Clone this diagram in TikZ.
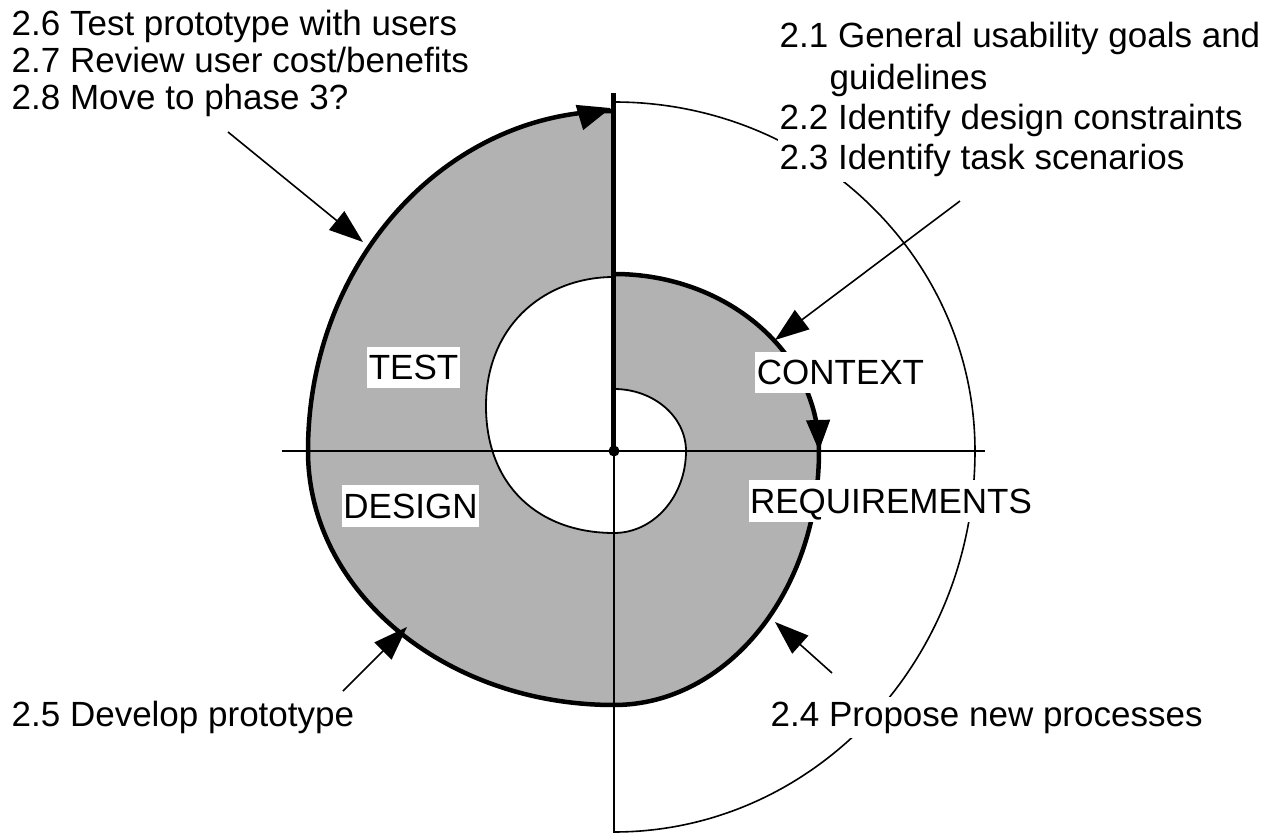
\documentclass[tikz,border=0pt]{standalone}
\usepackage{fontspec}
\setmainfont{Liberation Sans}
\usetikzlibrary{arrows.meta}
\begin{document}
\begin{tikzpicture}[x=1pt,y=1pt,
  thinline/.style={line width=1.6pt},
  thickline/.style={line width=4.5pt},
  bigtip/.style={-{Triangle[length=34pt,width=24pt]}},
  lbl/.style={fill=white, inner xsep=1.5pt, inner ysep=8.2pt, text height=25pt, text depth=0pt, font=\fontsize{35}{40}\selectfont},
  item/.style={anchor=base west, inner xsep=1.5pt, inner ysep=5pt, font=\fontsize{35}{40}\selectfont},
]
\useasboundingbox (-614,-384) rectangle (661,451);

% gray spiral band
\fill[black!30] (0,62) arc[start angle=90,end angle=0,x radius=72,y radius=62]
  arc[start angle=0,end angle=-90,x radius=72,y radius=82] -- (0,-254)
  arc[start angle=-90,end angle=0,x radius=205,y radius=254]
  arc[start angle=0,end angle=90,x radius=205,y radius=177] -- cycle;
\fill[black!30] (0,-82) .. controls (-75,-82) and (-128,-35) .. (-128,45)
  .. controls (-128,125) and (-70,174) .. (0,174) -- (0,340)
  arc[start angle=90,end angle=180,x radius=306,y radius=340]
  arc[start angle=180,end angle=270,x radius=306,y radius=254] -- cycle;

% thin outer turn
\draw[thinline] (0,349) arc[start angle=90,end angle=0,x radius=361,y radius=349]
  arc[start angle=0,end angle=-90,x radius=361,y radius=381];

% axes
\draw[thinline] (-332,0) -- (371,0);
\draw[thinline] (0,0) -- (0,-382);

% inner spiral
\draw[line width=1.8pt] (0,62) arc[start angle=90,end angle=0,x radius=72,y radius=62]
  arc[start angle=0,end angle=-90,x radius=72,y radius=82]
  .. controls (-75,-82) and (-128,-35) .. (-128,45)
  .. controls (-128,125) and (-70,174) .. (0,174);

% thick outer boundary
\draw[thickline] (0,177)
  arc[start angle=90,end angle=0,x radius=205,y radius=177]
  arc[start angle=0,end angle=-90,x radius=205,y radius=254]
  arc[start angle=-90,end angle=-180,x radius=306,y radius=254]
  arc[start angle=180,end angle=90,x radius=306,y radius=340];
% spiral direction arrows
\coordinate (sp1a) at (204.6,14); \coordinate (sp1b) at (205,0);
\coordinate (sp2a) at (-14,339.7); \coordinate (sp2b) at (-3,343);
\draw[thickline, -{Triangle[length=31pt,width=23pt]}] (sp1a) -- (sp1b);
\draw[thickline, -{Triangle[length=33pt,width=25pt]}] (sp2a) -- (sp2b);

% thick vertical and centre dot
\draw[line width=5pt] (0,0) -- (0,358);
\fill (0,0) circle[radius=5.5];

% phase labels
\node[lbl] (test) at (-200.5,83.5) {TEST};
\node[lbl] (design) at (-203.5,-55) {DESIGN};
\node[lbl] (context) at (226.5,78.5) {CONTEXT};
\node[lbl] (req) at (277,-50) {REQUIREMENTS};

% activity texts
\node[item] (t26) at (-604,415) {2.6 Test prototype with users};
\node[item] (t27) at (-604,378) {2.7 Review user cost/benefits};
\node[item] (t28) at (-604,341) {2.8 Move to phase 3?};
\node[item] (t21) at (164,403) {2.1 General usability goals and};
\node[item] (t21b) at (214,361.5) {guidelines};
\node[item, fill=white] (t22) at (164,321) {2.2 Identify design constraints};
\node[item, fill=white] (t23) at (164,281) {2.3 Identify task scenarios};
\node[item, fill=white] (t24) at (155,-275) {2.4 Propose new processes};
\node[item] (t25) at (-604,-275) {2.5 Develop prototype};

% pointer arrows
\coordinate (a26s) at (-386,319); \coordinate (a26e) at (-251,209);
\coordinate (a23s) at (346,250);  \coordinate (a23e) at (161,111);
\coordinate (a24s) at (218,-222); \coordinate (a24e) at (161,-171);
\coordinate (a25s) at (-271,-240); \coordinate (a25e) at (-207,-176);
\draw[thinline,bigtip] (a26s) -- (a26e);
\draw[thinline,bigtip] (a23s) -- (a23e);
\draw[thinline,bigtip] (a24s) -- (a24e);
\draw[thinline,bigtip] (a25s) -- (a25e);
\end{tikzpicture}
\end{document}
